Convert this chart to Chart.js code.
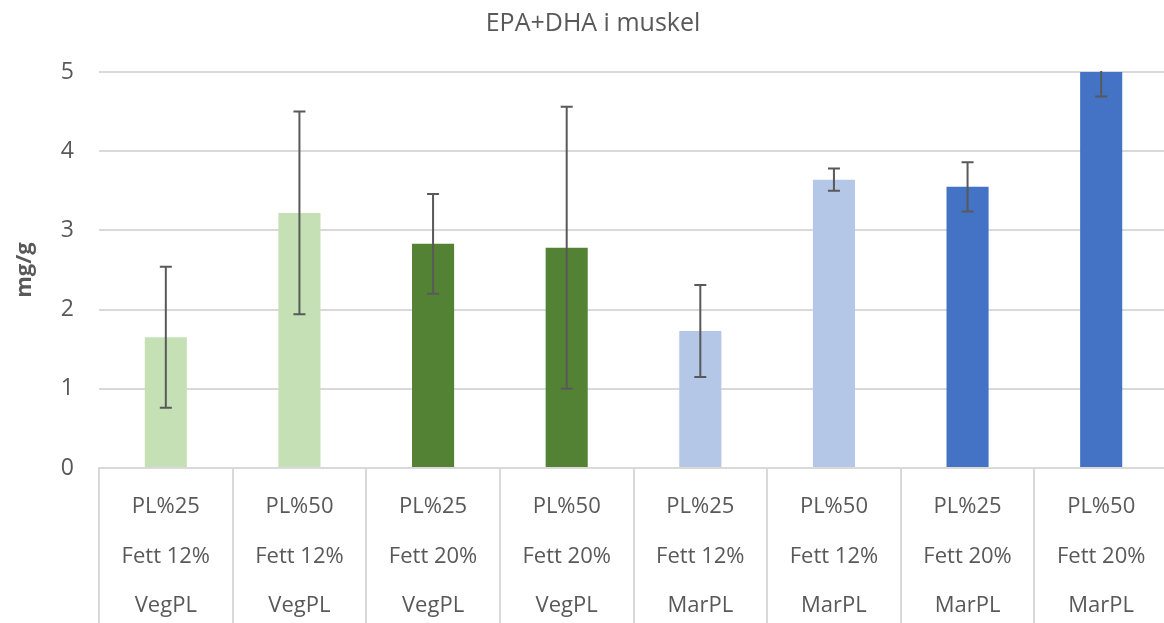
<!DOCTYPE html>
<html lang="no">
<head>
  <meta charset="UTF-8">
  <title>EPA+DHA i muskel</title>
  <script src="https://cdn.jsdelivr.net/npm/chart.js"></script>
  <style>
    body { margin: 0; overflow: hidden; background: #fff; }
    .chart-box { width: 1168px; height: 623px; }
  </style>
</head>
<body>
  <div class="chart-box"><canvas id="chart"></canvas></div>
  <script>
    // category rows (top to bottom under the axis)
    const plLevel = ['PL%25', 'PL%50', 'PL%25', 'PL%50', 'PL%25', 'PL%50', 'PL%25', 'PL%50'];
    const fatLevel = ['Fett 12%', 'Fett 12%', 'Fett 20%', 'Fett 20%', 'Fett 12%', 'Fett 12%', 'Fett 20%', 'Fett 20%'];
    const plSource = ['VegPL', 'VegPL', 'VegPL', 'VegPL', 'MarPL', 'MarPL', 'MarPL', 'MarPL'];

    // mg/g
    const epaDha = [1.65, 3.22, 2.83, 2.78, 1.73, 3.64, 3.55, 5.2];
    const epaDhaErr = [0.89, 1.28, 0.63, 1.78, 0.58, 0.14, 0.31, 0.51];
    const barColors = ['#C5E0B4', '#C5E0B4', '#548235', '#548235', '#B4C7E7', '#B4C7E7', '#4472C4', '#4472C4'];

    const labels = plLevel.map((p, i) => [p, fatLevel[i], plSource[i]]);
    const textColor = '#595959';
    const lineColor = '#D9D9D9';

    // draw the error bars on top of the bars
    const errorBars = {
      id: 'errorBars',
      afterDatasetsDraw(chart) {
        const ctx = chart.ctx;
        const y = chart.scales.y;
        const area = chart.chartArea;
        const meta = chart.getDatasetMeta(0);
        ctx.save();
        ctx.beginPath();
        ctx.rect(area.left, area.top - 1, area.right - area.left, area.bottom - area.top + 2);
        ctx.clip();
        ctx.strokeStyle = textColor;
        ctx.lineWidth = 2;
        meta.data.forEach((bar, i) => {
          const hi = y.getPixelForValue(epaDha[i] + epaDhaErr[i]);
          const lo = y.getPixelForValue(epaDha[i] - epaDhaErr[i]);
          ctx.beginPath();
          ctx.moveTo(bar.x, hi); ctx.lineTo(bar.x, lo);
          ctx.moveTo(bar.x - 6, hi); ctx.lineTo(bar.x + 6, hi);
          ctx.moveTo(bar.x - 6, lo); ctx.lineTo(bar.x + 6, lo);
          ctx.stroke();
        });
        ctx.restore();
      }
    };

    new Chart(document.getElementById('chart'), {
      type: 'bar',
      data: {
        labels: labels,
        datasets: [{
          label: 'EPA+DHA',
          data: epaDha,
          backgroundColor: barColors,
          categoryPercentage: 0.315,
          barPercentage: 1
        }]
      },
      options: {
        responsive: true,
        maintainAspectRatio: false,
        animation: false,
        layout: { padding: { left: 18, right: 0, top: 0, bottom: 0 } },
        plugins: {
          legend: { display: false },
          tooltip: { enabled: false },
          title: {
            display: true,
            text: 'EPA+DHA i muskel',
            color: textColor,
            font: { family: 'Open Sans', size: 25, weight: 'normal' },
            padding: { top: 9, bottom: 33 }
          }
        },
        scales: {
          x: {
            afterFit(scale) { scale.height = 155; },
            grid: {
              offset: true,
              drawOnChartArea: false,
              drawTicks: true,
              tickLength: 160,
              color: lineColor,
              lineWidth: 2
            },
            border: { display: true, color: lineColor, width: 2 },
            ticks: {
              autoSkip: false,
              maxRotation: 0,
              padding: -146,
              color: textColor,
              font: { family: 'Open Sans', size: 22, lineHeight: '49.5px' }
            }
          },
          y: {
            min: 0,
            max: 5,
            afterFit(scale) { scale.width = 81; },
            grid: { color: lineColor, lineWidth: 2, drawTicks: false },
            border: { display: false },
            ticks: {
              stepSize: 1,
              padding: 25,
              color: textColor,
              font: { family: 'Open Sans', size: 23 }
            },
            title: {
              display: true,
              text: 'mg/g',
              color: textColor,
              font: { family: 'Open Sans', size: 22, weight: 'bold' },
              padding: { top: -6, bottom: 0 }
            }
          }
        }
      },
      plugins: [errorBars]
    });
  </script>
</body>
</html>
